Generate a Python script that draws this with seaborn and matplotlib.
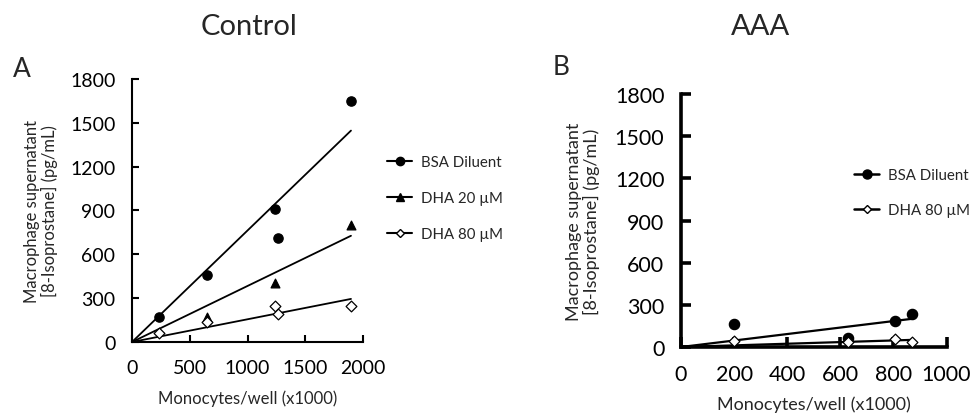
import matplotlib
matplotlib.use("Agg")
import matplotlib.pyplot as plt
from matplotlib.lines import Line2D
import seaborn as sns
import numpy as np
import pandas as pd

# Control (panel A): monocytes/well (x1000) vs 8-isoprostane (pg/mL)
ctrl_x_bsa = [234, 651, 1241, 1261, 1896]
ctrl_y_bsa = [173, 459, 910, 712, 1651]
ctrl_x_dha20 = [651, 1241, 1896]
ctrl_y_dha20 = [169, 402, 803]
ctrl_x_dha80 = [234, 651, 1241, 1261, 1896]
ctrl_y_dha80 = [62, 135, 248, 190, 248]

# AAA (panel B)
aaa_x_bsa = [200, 628, 805, 869]
aaa_y_bsa = [161, 61, 182, 238]
aaa_x_dha80 = [200, 628, 805, 869]
aaa_y_dha80 = [46, 33, 56, 37]

y_ticks = [0, 300, 600, 900, 1200, 1500, 1800]
ctrl_x_ticks = [0, 500, 1000, 1500, 2000]
aaa_x_ticks = [0, 200, 400, 600, 800, 1000]

sns.set_theme(style="ticks")
plt.rcParams["font.family"] = ["Lato", "DejaVu Sans"]

fig = plt.figure(figsize=(9.75, 4.14), dpi=100)
axA = fig.add_axes([0.1354, 0.1715, 0.2369, 0.6353])
axB = fig.add_axes([0.6985, 0.1594, 0.2723, 0.6110])


def draw_series(ax, xs, ys, marker, face, size, lw):
    df = pd.DataFrame({"x": xs, "y": ys})
    # regression line through the origin
    slope = np.sum(df.x * df.y) / np.sum(df.x * df.x)
    line = pd.DataFrame({"x": [0, max(xs)], "y": [0, slope * max(xs)]})
    sns.lineplot(data=line, x="x", y="y", ax=ax, color="black", lw=lw)
    sns.scatterplot(data=df, x="x", y="y", ax=ax, marker=marker, s=size,
                    facecolor=face, edgecolor="black", linewidth=0.9, zorder=3)


draw_series(axA, ctrl_x_bsa, ctrl_y_bsa, "o", "black", 45, 1.3)
draw_series(axA, ctrl_x_dha20, ctrl_y_dha20, "^", "black", 40, 1.3)
draw_series(axA, ctrl_x_dha80, ctrl_y_dha80, "D", "white", 30, 1.3)

draw_series(axB, aaa_x_bsa, aaa_y_bsa, "o", "black", 55, 1.6)
draw_series(axB, aaa_x_dha80, aaa_y_dha80, "D", "white", 30, 1.6)

panel_style = [
    # ax, x ticks, tick font, spine width, tick length, label font, xlabel y, ylabel x
    (axA, ctrl_x_ticks, 14, 1.5, 5, 12, -0.18, -0.32),
    (axB, aaa_x_ticks, 15.5, 2.6, 7, 13, -0.19, -0.305),
]
for ax, xt, fs, sw, tl, lfs, xly, ylx in panel_style:
    ax.set_xlim(0, xt[-1])
    ax.set_ylim(0, 1800)
    ax.set_xticks(xt)
    ax.set_yticks(y_ticks)
    sns.despine(ax=ax)
    for s in ["left", "bottom"]:
        ax.spines[s].set_linewidth(sw)
        ax.spines[s].set_color("black")
    ax.tick_params(direction="in", length=tl, width=sw, labelsize=fs,
                   colors="black")
    ax.tick_params(axis="x", pad=12)
    ax.tick_params(axis="y", pad=12)
    ax.set_xlabel("Monocytes/well (x1000)", fontsize=lfs)
    ax.set_ylabel("Macrophage supernatant\n[8-Isoprostane] (pg/mL)",
                  fontsize=lfs, linespacing=1.1)
    ax.xaxis.set_label_coords(0.5, xly)
    ax.yaxis.set_label_coords(ylx, 0.5)

# legends
hA = [Line2D([0], [0], color="black", lw=1.5, marker="o", ms=6, mfc="black"),
      Line2D([0], [0], color="black", lw=1.5, marker="^", ms=6, mfc="black"),
      Line2D([0], [0], color="black", lw=1.5, marker="D", ms=4, mfc="white")]
fig.legend(hA, ["BSA Diluent", "DHA 20 \u00b5M", "DHA 80 \u00b5M"],
           loc="upper left", bbox_to_anchor=(0.383, 0.655), frameon=False,
           fontsize=10.8, handlelength=1.7, labelspacing=1.45, handletextpad=0.6)

hB = [Line2D([0], [0], color="black", lw=1.8, marker="o", ms=6.5, mfc="black"),
      Line2D([0], [0], color="black", lw=1.8, marker="D", ms=4, mfc="white")]
fig.legend(hB, ["BSA Diluent", "DHA 80 \u00b5M"],
           loc="upper left", bbox_to_anchor=(0.862, 0.625), frameon=False,
           fontsize=10.8, handlelength=1.7, labelspacing=1.45, handletextpad=0.6)

fig.text(0.255, 0.935, "Control", fontsize=21, ha="center", va="center")
fig.text(0.78, 0.935, "AAA", fontsize=21, ha="center", va="center")
fig.text(0.022, 0.833, "A", fontsize=19, ha="center", va="center")
fig.text(0.576, 0.836, "B", fontsize=19, ha="center", va="center")

fig.savefig("out.png", dpi=100)
